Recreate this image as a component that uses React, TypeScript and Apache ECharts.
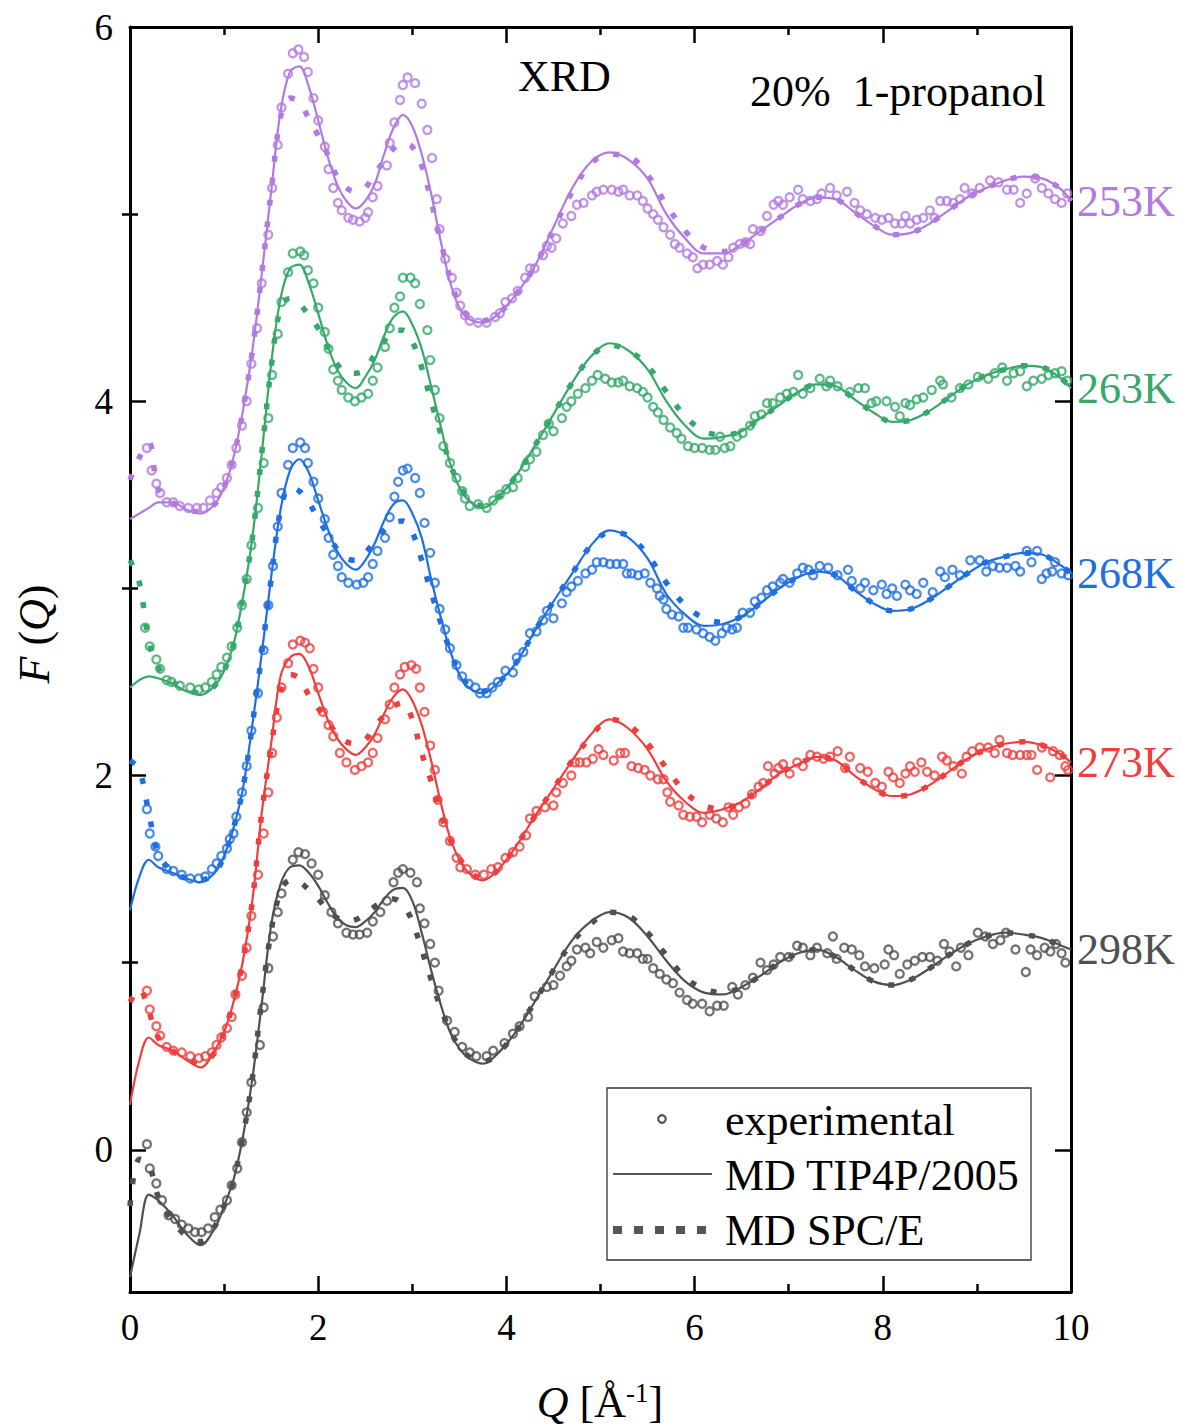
import React, { useEffect, useRef } from "react";
import * as echarts from "echarts";

const FONT = '"Liberation Serif", "Times New Roman", "DejaVu Serif", serif';

// Temperatures (labels), colours
const temps = ["298K", "273K", "268K", "263K", "253K"];
const colors = ["#505050", "#ee3e3e", "#1f6fe0", "#35a86a", "#b27ade"];

// Q grid for the MD curves
const lineQ = [0, 0.1, 0.2, 0.3, 0.45, 0.6, 0.75, 0.9,
  1.0, 1.1, 1.2, 1.3, 1.4, 1.5, 1.6, 1.7, 1.8, 1.9, 2.0, 2.1, 2.2, 2.3, 2.4, 2.5, 2.6, 2.7, 2.8, 2.9, 3.0, 3.1, 3.2, 3.3, 3.4, 3.5, 3.6,
  3.75, 3.9, 4.1, 4.3, 4.5, 4.7, 4.9,
  5.1, 5.3, 5.5, 5.7, 5.9, 6.1, 6.3, 6.5, 6.7, 6.9, 7.1, 7.3, 7.5, 7.7, 7.9, 8.1, 8.3, 8.5, 8.7, 8.9, 9.1, 9.3, 9.5, 9.7, 9.9,
  10.0];

// MD TIP4P/2005 (solid), shifted curves as plotted
const tip298 = [-0.68, -0.45, -0.24, -0.27, -0.35, -0.45, -0.51, -0.42,
  -0.30, -0.16, 0.07, 0.38, 0.78, 1.20, 1.42, 1.51, 1.52, 1.48, 1.41, 1.32, 1.24, 1.20, 1.19, 1.22, 1.27, 1.34, 1.39, 1.40, 1.33, 1.16, 0.96, 0.78, 0.63, 0.54, 0.49,
  0.46, 0.51, 0.63, 0.79, 0.96, 1.12, 1.22,
  1.27, 1.24, 1.14, 1.01, 0.90, 0.84, 0.83, 0.87, 0.93, 1.00, 1.05, 1.07, 1.03, 0.96, 0.90, 0.88, 0.91, 0.97, 1.04, 1.10, 1.14, 1.16, 1.15, 1.13, 1.09,
  1.07];
const tip273 = [0.24, 0.48, 0.60, 0.56, 0.53, 0.48, 0.44, 0.53,
  0.63, 0.79, 1.01, 1.33, 1.80, 2.17, 2.53, 2.63, 2.65, 2.58, 2.44, 2.30, 2.20, 2.14, 2.11, 2.15, 2.22, 2.33, 2.42, 2.46, 2.40, 2.27, 2.08, 1.86, 1.67, 1.55, 1.48,
  1.44, 1.49, 1.62, 1.78, 1.93, 2.08, 2.22,
  2.30, 2.25, 2.14, 1.97, 1.86, 1.80, 1.82, 1.86, 1.93, 2.01, 2.06, 2.10, 2.08, 2.00, 1.93, 1.89, 1.90, 1.95, 2.02, 2.09, 2.14, 2.17, 2.18, 2.16, 2.11,
  2.07];
const tip268 = [1.28, 1.46, 1.55, 1.51, 1.48, 1.45, 1.43, 1.48,
  1.57, 1.72, 1.93, 2.27, 2.65, 3.06, 3.42, 3.63, 3.69, 3.62, 3.47, 3.32, 3.20, 3.13, 3.10, 3.15, 3.24, 3.36, 3.45, 3.47, 3.40, 3.27, 3.05, 2.85, 2.67, 2.54, 2.47,
  2.44, 2.49, 2.60, 2.77, 2.93, 3.08, 3.23,
  3.31, 3.27, 3.16, 2.97, 2.86, 2.80, 2.81, 2.85, 2.92, 3.00, 3.06, 3.09, 3.07, 2.99, 2.92, 2.88, 2.89, 2.94, 3.01, 3.08, 3.14, 3.17, 3.19, 3.18, 3.12,
  3.08];
const tip263 = [2.47, 2.51, 2.53, 2.52, 2.49, 2.45, 2.43, 2.48,
  2.56, 2.70, 2.95, 3.27, 3.72, 4.20, 4.55, 4.71, 4.73, 4.63, 4.47, 4.30, 4.17, 4.10, 4.07, 4.13, 4.22, 4.35, 4.45, 4.48, 4.41, 4.28, 4.08, 3.87, 3.67, 3.54, 3.47,
  3.43, 3.48, 3.60, 3.76, 3.93, 4.10, 4.24,
  4.31, 4.27, 4.17, 4.00, 3.87, 3.80, 3.81, 3.84, 3.91, 3.98, 4.05, 4.09, 4.08, 4.01, 3.94, 3.89, 3.90, 3.95, 4.02, 4.09, 4.14, 4.17, 4.19, 4.18, 4.12,
  4.07];
const tip253 = [3.37, 3.40, 3.43, 3.46, 3.46, 3.42, 3.40, 3.45,
  3.54, 3.70, 3.95, 4.27, 4.68, 5.12, 5.55, 5.76, 5.79, 5.68, 5.50, 5.31, 5.16, 5.07, 5.03, 5.07, 5.16, 5.32, 5.46, 5.53, 5.47, 5.32, 5.11, 4.86, 4.64, 4.50, 4.44,
  4.42, 4.46, 4.57, 4.72, 4.93, 5.14, 5.28,
  5.33, 5.29, 5.19, 5.00, 4.87, 4.79, 4.79, 4.84, 4.91, 4.98, 5.05, 5.09, 5.08, 5.01, 4.94, 4.89, 4.90, 4.95, 5.02, 5.09, 5.14, 5.18, 5.20, 5.19, 5.13,
  5.07];

// MD SPC/E (dashed)
const spc298 = [-0.30, -0.05, -0.08, -0.25, -0.38, -0.46, -0.49, -0.41,
  -0.30, -0.16, 0.07, 0.38, 0.80, 1.17, 1.38, 1.44, 1.43, 1.39, 1.34, 1.28, 1.24, 1.22, 1.23, 1.26, 1.30, 1.33, 1.34, 1.31, 1.22, 1.07, 0.91, 0.76, 0.64, 0.55, 0.50,
  0.47, 0.51, 0.63, 0.79, 0.96, 1.11, 1.21,
  1.27, 1.25, 1.16, 1.04, 0.92, 0.86, 0.84, 0.87, 0.93, 1.00, 1.05, 1.07, 1.03, 0.96, 0.90, 0.88, 0.91, 0.97, 1.04, 1.10, 1.14, 1.16, 1.15, 1.13, 1.09,
  1.07];
const spc273 = [0.79, 0.86, 0.74, 0.60, 0.53, 0.49, 0.46, 0.52,
  0.63, 0.79, 1.01, 1.33, 1.80, 2.15, 2.45, 2.54, 2.52, 2.43, 2.36, 2.29, 2.22, 2.18, 2.17, 2.19, 2.26, 2.32, 2.37, 2.39, 2.30, 2.12, 1.97, 1.80, 1.66, 1.56, 1.49,
  1.45, 1.49, 1.62, 1.78, 1.93, 2.08, 2.21,
  2.30, 2.27, 2.17, 2.04, 1.91, 1.84, 1.82, 1.86, 1.93, 2.01, 2.06, 2.10, 2.08, 2.00, 1.93, 1.89, 1.90, 1.95, 2.02, 2.09, 2.14, 2.17, 2.18, 2.16, 2.11,
  2.07];
const spc268 = [2.08, 2.03, 1.80, 1.58, 1.49, 1.45, 1.44, 1.48,
  1.57, 1.72, 1.93, 2.27, 2.65, 3.05, 3.42, 3.54, 3.52, 3.46, 3.37, 3.29, 3.21, 3.16, 3.15, 3.19, 3.25, 3.31, 3.35, 3.36, 3.30, 3.15, 2.98, 2.82, 2.67, 2.55, 2.48,
  2.45, 2.49, 2.60, 2.77, 2.93, 3.08, 3.23,
  3.30, 3.28, 3.18, 3.03, 2.91, 2.84, 2.82, 2.85, 2.92, 3.00, 3.06, 3.09, 3.07, 2.99, 2.92, 2.88, 2.89, 2.94, 3.01, 3.08, 3.14, 3.17, 3.19, 3.18, 3.12,
  3.08];
const spc263 = [3.15, 3.03, 2.72, 2.58, 2.50, 2.46, 2.44, 2.48,
  2.56, 2.70, 2.95, 3.27, 3.72, 4.18, 4.50, 4.55, 4.52, 4.46, 4.39, 4.29, 4.20, 4.15, 4.15, 4.17, 4.25, 4.32, 4.38, 4.38, 4.32, 4.18, 4.00, 3.83, 3.67, 3.55, 3.48,
  3.44, 3.48, 3.60, 3.76, 3.93, 4.10, 4.24,
  4.30, 4.27, 4.19, 4.05, 3.92, 3.84, 3.82, 3.84, 3.91, 3.98, 4.05, 4.09, 4.08, 4.01, 3.94, 3.89, 3.90, 3.95, 4.02, 4.09, 4.14, 4.17, 4.19, 4.18, 4.12,
  4.07];
const spc253 = [3.58, 3.70, 3.78, 3.53, 3.46, 3.42, 3.41, 3.45,
  3.54, 3.70, 3.95, 4.27, 4.68, 5.12, 5.52, 5.62, 5.60, 5.51, 5.42, 5.32, 5.20, 5.14, 5.12, 5.14, 5.22, 5.28, 5.35, 5.38, 5.36, 5.26, 5.07, 4.86, 4.66, 4.52, 4.45,
  4.43, 4.46, 4.57, 4.72, 4.92, 5.12, 5.27,
  5.32, 5.31, 5.21, 5.05, 4.91, 4.82, 4.80, 4.84, 4.91, 4.98, 5.05, 5.09, 5.08, 5.01, 4.94, 4.89, 4.90, 4.95, 5.02, 5.09, 5.14, 5.18, 5.20, 5.19, 5.13,
  5.07];

// Experimental points [Q, F(Q) shifted]
const exp298 = [[0.18,0.03],[0.21,-0.10],[0.28,-0.18],[0.34,-0.27],[0.41,-0.35],[0.48,-0.37],[0.55,-0.40],[0.62,-0.42],[0.69,-0.44],[0.76,-0.44],[0.83,-0.42],[0.9,-0.36],[0.96,-0.32],[1.03,-0.27],[1.08,-0.19],[1.14,-0.10],[1.19,0.04],[1.24,0.20],[1.29,0.36],[1.38,0.56],[1.42,0.76],[1.47,0.97],[1.52,1.14],[1.57,1.27],[1.61,1.37],[1.73,1.55],[1.79,1.59],[1.86,1.58],[1.93,1.53],[2.0,1.47],[2.07,1.36],[2.14,1.27],[2.21,1.21],[2.3,1.16],[2.37,1.15],[2.44,1.15],[2.52,1.16],[2.58,1.22],[2.66,1.27],[2.73,1.33],[2.8,1.43],[2.85,1.48],[2.9,1.50],[2.98,1.48],[3.05,1.43],[3.08,1.29],[3.13,1.21],[3.19,1.10],[3.24,1.0],[3.28,0.85],[3.37,0.69],[3.45,0.63],[3.53,0.55],[3.61,0.52],[3.68,0.50],[3.79,0.50],[3.86,0.53],[3.98,0.57],[4.07,0.62],[4.14,0.66],[4.23,0.71],[4.3,0.82],[4.43,0.87],[4.5,0.88],[4.57,0.93],[4.64,0.98],[4.69,1.01],[4.75,1.07],[4.84,1.08],[4.89,1.05],[4.96,1.11],[5.03,1.08],[5.12,1.12],[5.19,1.13],[5.24,1.06],[5.31,1.05],[5.39,1.05],[5.45,1.02],[5.5,1.02],[5.56,0.97],[5.63,0.94],[5.7,0.91],[5.77,0.89],[5.84,0.84],[5.92,0.80],[5.98,0.78],[6.08,0.78],[6.16,0.74],[6.24,0.77],[6.31,0.77],[6.4,0.87],[6.46,0.83],[6.54,0.88],[6.62,0.92],[6.7,1.0],[6.77,0.96],[6.84,0.99],[6.91,1.03],[7.0,1.03],[7.09,1.09],[7.15,1.08],[7.23,1.04],[7.3,1.08],[7.41,1.05],[7.47,1.14],[7.51,1.02],[7.59,1.08],[7.67,1.07],[7.75,1.04],[7.81,0.98],[7.91,0.97],[8.02,0.99],[8.06,1.07],[8.12,1.04],[8.18,0.94],[8.26,0.99],[8.34,1.01],[8.42,1.03],[8.5,1.03],[8.58,1.01],[8.65,1.10],[8.71,1.06],[8.78,0.98],[8.83,1.08],[8.91,1.04],[9.01,1.16],[9.09,1.14],[9.17,1.10],[9.25,1.12],[9.31,1.16],[9.41,1.07],[9.52,0.95],[9.57,1.07],[9.64,1.04],[9.72,1.08],[9.78,1.06],[9.84,1.10],[9.9,1.05],[9.94,1.0]];
const exp273 = [[0.18,0.85],[0.21,0.75],[0.28,0.66],[0.32,0.61],[0.39,0.55],[0.46,0.53],[0.55,0.52],[0.64,0.50],[0.73,0.49],[0.8,0.50],[0.87,0.52],[0.92,0.56],[0.97,0.60],[1.03,0.65],[1.08,0.71],[1.12,0.83],[1.19,0.93],[1.24,1.08],[1.29,1.25],[1.36,1.47],[1.42,1.69],[1.47,1.91],[1.51,2.12],[1.56,2.31],[1.61,2.47],[1.68,2.60],[1.73,2.70],[1.81,2.72],[1.86,2.71],[1.91,2.68],[1.95,2.57],[2.0,2.47],[2.05,2.34],[2.11,2.27],[2.16,2.21],[2.23,2.12],[2.3,2.07],[2.39,2.03],[2.46,2.05],[2.53,2.07],[2.58,2.12],[2.63,2.20],[2.71,2.30],[2.76,2.38],[2.81,2.47],[2.87,2.54],[2.92,2.58],[2.99,2.59],[3.04,2.57],[3.08,2.47],[3.13,2.34],[3.19,2.16],[3.24,2.03],[3.27,1.87],[3.33,1.75],[3.40,1.65],[3.47,1.56],[3.51,1.51],[3.58,1.50],[3.67,1.47],[3.76,1.47],[3.84,1.50],[3.91,1.51],[3.99,1.56],[4.07,1.59],[4.14,1.62],[4.21,1.68],[4.25,1.77],[4.32,1.81],[4.41,1.83],[4.5,1.84],[4.53,1.91],[4.6,1.96],[4.69,2.0],[4.73,2.07],[4.78,2.07],[4.85,2.07],[4.92,2.09],[4.98,2.14],[5.03,2.11],[5.14,2.08],[5.21,2.12],[5.26,2.12],[5.33,2.05],[5.4,2.04],[5.47,2.03],[5.53,2.0],[5.61,1.98],[5.67,1.98],[5.71,1.91],[5.74,1.86],[5.83,1.84],[5.88,1.79],[5.95,1.78],[6.02,1.78],[6.08,1.75],[6.16,1.79],[6.23,1.77],[6.3,1.75],[6.36,1.83],[6.41,1.79],[6.47,1.83],[6.54,1.85],[6.61,1.90],[6.68,1.94],[6.73,1.96],[6.78,2.05],[6.85,2.01],[6.89,2.04],[6.94,2.06],[7.01,2.01],[7.09,2.07],[7.15,2.05],[7.23,2.11],[7.3,2.10],[7.37,2.09],[7.44,2.10],[7.52,2.13],[7.6,2.04],[7.65,2.10],[7.76,2.04],[7.84,2.02],[7.92,1.96],[7.99,1.94],[8.06,2.02],[8.11,1.99],[8.18,1.96],[8.24,2.01],[8.29,2.05],[8.34,2.02],[8.41,2.07],[8.47,2.02],[8.55,2.0],[8.63,2.10],[8.68,2.08],[8.75,2.05],[8.84,2.01],[8.89,2.10],[8.95,2.13],[9.03,2.15],[9.12,2.15],[9.19,2.12],[9.24,2.19],[9.32,2.12],[9.38,2.11],[9.46,2.11],[9.53,2.11],[9.58,2.11],[9.64,2.03],[9.69,2.15],[9.78,1.99],[9.81,2.13],[9.88,2.11],[9.94,2.05],[9.97,2.03]];
const exp268 = [[0.18,1.82],[0.21,1.69],[0.27,1.62],[0.30,1.57],[0.39,1.50],[0.46,1.49],[0.55,1.47],[0.64,1.45],[0.73,1.45],[0.8,1.46],[0.87,1.50],[0.92,1.53],[0.97,1.57],[1.03,1.61],[1.06,1.66],[1.1,1.69],[1.13,1.78],[1.19,1.91],[1.24,2.05],[1.29,2.24],[1.36,2.44],[1.42,2.67],[1.47,2.91],[1.52,3.12],[1.57,3.33],[1.61,3.51],[1.68,3.66],[1.73,3.75],[1.81,3.78],[1.86,3.75],[1.89,3.67],[1.95,3.57],[2.0,3.48],[2.07,3.37],[2.11,3.27],[2.16,3.18],[2.21,3.12],[2.25,3.06],[2.32,3.03],[2.41,3.02],[2.48,3.03],[2.53,3.06],[2.58,3.13],[2.63,3.20],[2.71,3.27],[2.76,3.38],[2.81,3.49],[2.85,3.57],[2.9,3.63],[2.95,3.64],[3.03,3.59],[3.08,3.51],[3.13,3.35],[3.19,3.19],[3.24,3.03],[3.29,2.89],[3.35,2.78],[3.4,2.68],[3.47,2.59],[3.53,2.53],[3.6,2.49],[3.67,2.47],[3.72,2.44],[3.79,2.44],[3.85,2.47],[3.91,2.50],[3.99,2.56],[4.07,2.55],[4.11,2.63],[4.18,2.66],[4.25,2.76],[4.32,2.77],[4.39,2.83],[4.43,2.88],[4.5,2.84],[4.59,2.92],[4.64,2.98],[4.69,3.01],[4.76,3.04],[4.84,3.08],[4.91,3.10],[4.96,3.14],[5.03,3.14],[5.1,3.13],[5.17,3.13],[5.24,3.13],[5.28,3.08],[5.33,3.08],[5.4,3.07],[5.47,3.08],[5.53,3.03],[5.6,3.0],[5.63,2.96],[5.67,2.94],[5.7,2.89],[5.76,2.86],[5.83,2.85],[5.88,2.79],[5.93,2.79],[6.02,2.78],[6.09,2.76],[6.16,2.74],[6.22,2.72],[6.29,2.76],[6.34,2.79],[6.4,2.78],[6.45,2.79],[6.51,2.87],[6.59,2.87],[6.64,2.93],[6.71,2.95],[6.77,2.99],[6.83,3.01],[6.91,3.03],[6.94,3.05],[7.01,3.03],[7.09,3.08],[7.15,3.11],[7.21,3.10],[7.26,3.07],[7.33,3.12],[7.42,3.11],[7.52,3.07],[7.63,3.10],[7.67,3.04],[7.76,3.0],[7.81,3.03],[7.9,2.99],[7.99,3.02],[8.04,2.97],[8.1,3.0],[8.15,2.96],[8.24,3.02],[8.29,2.99],[8.36,2.97],[8.43,3.03],[8.53,2.98],[8.61,3.09],[8.66,3.06],[8.74,3.10],[8.82,3.07],[8.93,3.15],[9.03,3.15],[9.1,3.09],[9.17,3.12],[9.24,3.11],[9.32,3.11],[9.41,3.12],[9.46,3.09],[9.53,3.20],[9.58,3.14],[9.64,3.20],[9.69,3.05],[9.74,3.08],[9.8,3.09],[9.83,3.14],[9.9,3.08],[9.97,3.07]];
const exp263 = [[0.16,2.79],[0.21,2.69],[0.28,2.62],[0.32,2.57],[0.39,2.51],[0.44,2.50],[0.53,2.48],[0.64,2.47],[0.73,2.46],[0.8,2.47],[0.87,2.50],[0.92,2.54],[0.97,2.58],[1.03,2.63],[1.08,2.69],[1.14,2.79],[1.19,2.91],[1.24,3.05],[1.29,3.23],[1.36,3.43],[1.42,3.67],[1.47,3.91],[1.51,4.14],[1.57,4.36],[1.61,4.53],[1.68,4.69],[1.73,4.79],[1.81,4.80],[1.85,4.78],[1.89,4.70],[1.95,4.63],[2.0,4.50],[2.07,4.37],[2.11,4.28],[2.16,4.17],[2.21,4.11],[2.25,4.06],[2.32,4.02],[2.39,4.0],[2.46,4.02],[2.53,4.04],[2.58,4.11],[2.63,4.18],[2.71,4.29],[2.76,4.39],[2.81,4.50],[2.87,4.56],[2.9,4.66],[2.98,4.66],[3.03,4.63],[3.08,4.52],[3.16,4.38],[3.19,4.22],[3.24,4.06],[3.29,3.91],[3.33,3.76],[3.4,3.67],[3.47,3.59],[3.53,3.52],[3.56,3.48],[3.61,3.44],[3.7,3.45],[3.79,3.43],[3.86,3.47],[3.93,3.50],[4.0,3.53],[4.07,3.54],[4.12,3.59],[4.2,3.65],[4.25,3.69],[4.32,3.73],[4.39,3.82],[4.45,3.88],[4.5,3.84],[4.59,3.91],[4.64,3.97],[4.69,4.0],[4.76,4.04],[4.84,4.07],[4.91,4.11],[4.97,4.14],[5.05,4.12],[5.12,4.10],[5.19,4.10],[5.24,4.11],[5.31,4.08],[5.39,4.07],[5.45,4.05],[5.5,4.02],[5.56,3.97],[5.61,3.94],[5.67,3.90],[5.74,3.86],[5.81,3.83],[5.86,3.80],[5.93,3.76],[6.0,3.75],[6.08,3.75],[6.16,3.74],[6.22,3.74],[6.27,3.81],[6.32,3.75],[6.38,3.76],[6.45,3.81],[6.51,3.83],[6.59,3.87],[6.64,3.92],[6.71,3.93],[6.77,3.99],[6.83,3.99],[6.91,4.02],[6.98,4.04],[7.05,4.05],[7.1,4.14],[7.15,4.04],[7.23,4.07],[7.33,4.12],[7.4,4.08],[7.44,4.11],[7.52,4.08],[7.65,4.05],[7.74,4.07],[7.81,4.07],[7.88,3.99],[7.93,4.0],[8.04,4.0],[8.13,3.97],[8.18,3.92],[8.24,3.99],[8.29,3.98],[8.36,4.01],[8.43,4.02],[8.52,4.06],[8.61,4.11],[8.64,4.09],[8.73,4.02],[8.82,4.07],[8.91,4.09],[9.01,4.13],[9.12,4.12],[9.19,4.15],[9.27,4.18],[9.32,4.11],[9.39,4.15],[9.46,4.16],[9.53,4.08],[9.6,4.11],[9.69,4.12],[9.76,4.14],[9.83,4.15],[9.9,4.16],[9.96,4.11]];
const exp253 = [[0.18,3.75],[0.23,3.63],[0.28,3.56],[0.32,3.51],[0.39,3.46],[0.46,3.46],[0.53,3.44],[0.62,3.43],[0.71,3.43],[0.78,3.43],[0.85,3.47],[0.92,3.51],[0.97,3.54],[1.03,3.59],[1.08,3.66],[1.13,3.75],[1.19,3.87],[1.24,4.0],[1.29,4.2],[1.35,4.39],[1.4,4.63],[1.47,4.89],[1.51,5.14],[1.57,5.37],[1.61,5.57],[1.68,5.75],[1.73,5.86],[1.79,5.88],[1.85,5.84],[1.89,5.76],[1.95,5.62],[2.0,5.50],[2.07,5.36],[2.11,5.24],[2.16,5.14],[2.21,5.06],[2.25,5.02],[2.32,4.98],[2.37,4.97],[2.44,4.96],[2.5,4.98],[2.53,5.01],[2.58,5.09],[2.63,5.15],[2.73,5.26],[2.76,5.38],[2.81,5.49],[2.87,5.61],[2.9,5.69],[2.95,5.73],[3.03,5.70],[3.1,5.59],[3.16,5.45],[3.21,5.30],[3.26,5.08],[3.29,4.92],[3.35,4.76],[3.42,4.66],[3.47,4.58],[3.51,4.51],[3.56,4.46],[3.61,4.43],[3.7,4.42],[3.79,4.42],[3.88,4.45],[3.93,4.47],[3.99,4.53],[4.06,4.55],[4.12,4.59],[4.2,4.66],[4.25,4.71],[4.3,4.71],[4.39,4.78],[4.43,4.83],[4.48,4.82],[4.53,4.87],[4.6,4.95],[4.69,4.99],[4.75,5.05],[4.82,5.06],[4.91,5.10],[4.96,5.12],[5.03,5.13],[5.12,5.13],[5.19,5.12],[5.24,5.13],[5.31,5.10],[5.39,5.10],[5.45,5.07],[5.5,5.03],[5.56,5.0],[5.61,4.97],[5.67,4.93],[5.74,4.89],[5.79,4.84],[5.84,4.82],[5.92,4.79],[5.98,4.77],[6.03,4.71],[6.09,4.73],[6.16,4.73],[6.24,4.75],[6.3,4.73],[6.36,4.77],[6.41,4.82],[6.48,4.84],[6.54,4.85],[6.59,4.84],[6.62,4.92],[6.7,4.91],[6.77,4.99],[6.84,5.05],[6.89,5.07],[6.94,5.05],[7.01,5.09],[7.1,5.13],[7.15,5.08],[7.23,5.07],[7.3,5.08],[7.35,5.11],[7.44,5.14],[7.51,5.10],[7.62,5.12],[7.7,5.06],[7.76,5.02],[7.83,5.0],[7.92,4.98],[7.99,4.97],[8.06,4.98],[8.13,4.95],[8.2,4.95],[8.24,4.99],[8.29,4.95],[8.36,4.97],[8.43,4.98],[8.5,5.02],[8.55,4.98],[8.61,5.07],[8.68,5.07],[8.75,5.06],[8.82,5.08],[8.87,5.14],[8.95,5.11],[9.03,5.14],[9.14,5.18],[9.23,5.17],[9.32,5.13],[9.39,5.13],[9.46,5.06],[9.53,5.11],[9.62,5.19],[9.69,5.14],[9.76,5.11],[9.83,5.08],[9.9,5.06],[9.96,5.11]];

const expSets = [exp298, exp273, exp268, exp263, exp253];
const tipSets = [tip298, tip273, tip268, tip263, tip253];
const spcSets = [spc298, spc273, spc268, spc263, spc253];

// Axis ticks
const xTicks = [0, 2, 4, 6, 8, 10];
const yMajor = [0, 2, 4, 6];
const yMinor = [1, 3, 5];
const legendNames = ["experimental", "MD TIP4P/2005", "MD SPC/E"];

const zip = (q: number[], v: number[]) => q.map((x, i) => [x, v[i]]);

function buildOption() {
  const series: any[] = [];
  temps.forEach((t, k) => {
    const c = colors[k];
    series.push({
      type: "scatter",
      name: legendNames[0] + " " + t,
      data: expSets[k],
      symbol: "circle",
      symbolSize: 8,
      itemStyle: { color: "rgba(255,255,255,0)", borderColor: c, borderWidth: 2.3 },
      z: 2,
      silent: true,
    });
    series.push({
      type: "line",
      name: legendNames[1] + " " + t,
      data: zip(lineQ, tipSets[k]),
      showSymbol: false,
      symbol: "none",
      smooth: 0.35,
      lineStyle: { color: c, width: 2.2 },
      z: 3,
      silent: true,
      endLabel: {
        show: true,
        formatter: t,
        color: c,
        fontSize: 44,
        fontFamily: FONT,
        distance: 6,
      },
    });
    series.push({
      type: "line",
      name: legendNames[2] + " " + t,
      data: zip(lineQ, spcSets[k]),
      showSymbol: false,
      symbol: "none",
      smooth: 0.35,
      lineStyle: { color: c, width: 5.5, type: [6, 16], cap: "butt" },
      z: 4,
      silent: true,
    });
  });

  const tickStyle = { color: "#000", width: 2.5 };
  const baseX = {
    type: "value",
    min: 0,
    max: 10,
    interval: 2,
    axisLine: { show: true, onZero: false, lineStyle: { color: "#000", width: 3 } },
    axisTick: { show: true, inside: true, length: 16, lineStyle: tickStyle },
    minorTick: { show: true, splitNumber: 2, length: 8, lineStyle: tickStyle },
    splitLine: { show: false },
    minorSplitLine: { show: false },
  };
  const baseY = {
    type: "value",
    min: -0.76,
    max: 6,
    axisLine: { show: true, onZero: false, lineStyle: { color: "#000", width: 3 } },
    splitLine: { show: false },
  };

  const txt = (s: string, x: number, y: number) => ({
    type: "text",
    x,
    y,
    style: { text: s, font: `44px ${FONT}`, fill: "#000", verticalAlign: "middle" },
    z: 11,
  });

  return {
    animation: false,
    backgroundColor: "#fff",
    grid: { left: 130, right: 110, top: 27, bottom: 135 },
    xAxis: [
      {
        ...baseX,
        position: "bottom",
        axisLabel: {
          show: true,
          fontSize: 37,
          fontFamily: FONT,
          color: "#000",
          margin: 17,
          customValues: xTicks,
        },
      },
      { ...baseX, position: "top", axisLabel: { show: false } },
    ],
    yAxis: [
      {
        ...baseY,
        position: "left",
        axisTick: { show: true, inside: true, length: 16, lineStyle: tickStyle, customValues: yMajor },
        axisLabel: {
          show: true,
          fontSize: 37,
          fontFamily: FONT,
          color: "#000",
          margin: 17,
          customValues: yMajor,
        },
      },
      {
        ...baseY,
        position: "right",
        axisTick: { show: true, inside: true, length: 16, lineStyle: tickStyle, customValues: yMajor },
        axisLabel: { show: false },
      },
      {
        ...baseY,
        position: "left",
        axisLine: { show: false },
        axisTick: { show: true, inside: true, length: 8, lineStyle: tickStyle, customValues: yMinor },
        axisLabel: { show: false },
      },
      {
        ...baseY,
        position: "right",
        axisLine: { show: false },
        axisTick: { show: true, inside: true, length: 8, lineStyle: tickStyle, customValues: yMinor },
        axisLabel: { show: false },
      },
    ],
    series,
    graphic: [
      txt("XRD", 518, 76),
      txt("20%  1-propanol", 750, 91),
      // legend box
      {
        type: "rect",
        shape: { x: 607, y: 1088, width: 424, height: 172 },
        style: { fill: "#fff", stroke: "#333", lineWidth: 1.3 },
        z: 10,
      },
      {
        type: "circle",
        shape: { cx: 662, cy: 1119, r: 3.8 },
        style: { fill: "none", stroke: "#555", lineWidth: 2.2 },
        z: 11,
      },
      {
        type: "line",
        shape: { x1: 613, y1: 1174, x2: 712, y2: 1174 },
        style: { stroke: "#555", lineWidth: 2 },
        z: 11,
      },
      {
        type: "line",
        shape: { x1: 613, y1: 1230, x2: 712, y2: 1230 },
        style: { stroke: "#555", lineWidth: 8, lineDash: [9, 12] },
        z: 11,
      },
      txt(legendNames[0], 725, 1120),
      txt(legendNames[1], 725, 1175),
      txt(legendNames[2], 725, 1230),
      // axis titles
      {
        type: "text",
        x: 600,
        y: 1402,
        style: {
          text: "{i|Q} [Å{s|-1}]",
          align: "center",
          verticalAlign: "middle",
          fill: "#000",
          font: `44px ${FONT}`,
          rich: {
            i: { fontStyle: "italic", fontSize: 44, fontFamily: FONT, fill: "#000" },
            s: { fontSize: 27, fontFamily: FONT, fill: "#000", verticalAlign: "top", padding: [0, 0, 18, 0] },
          },
        },
        z: 10,
      },
      {
        type: "text",
        x: 34,
        y: 634,
        rotation: Math.PI / 2,
        style: {
          text: "{i|F} ({i|Q})",
          align: "center",
          verticalAlign: "middle",
          fill: "#000",
          font: `44px ${FONT}`,
          rich: {
            i: { fontStyle: "italic", fontSize: 44, fontFamily: FONT, fill: "#000" },
          },
        },
        z: 10,
      },
    ],
  };
}

export default function App() {
  const ref = useRef<HTMLDivElement>(null);
  useEffect(() => {
    if (!ref.current) return;
    const chart = echarts.init(ref.current, null, { renderer: "svg" });
    chart.setOption(buildOption() as any);
    return () => chart.dispose();
  }, []);
  return (
    <div
      ref={ref}
      style={{ position: "absolute", left: 0, top: 0, width: 1181, height: 1427, background: "#fff" }}
    />
  );
}
